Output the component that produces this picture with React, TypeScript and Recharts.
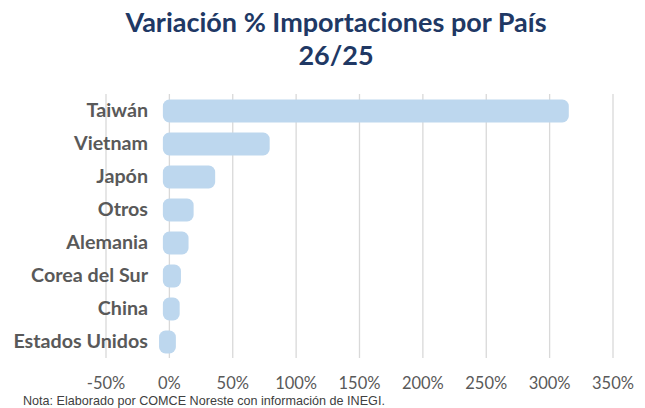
import { Bar, BarChart, CartesianGrid, XAxis, YAxis } from 'recharts';

const COUNTRIES = [
  'Taiwán',
  'Vietnam',
  'Japón',
  'Otros',
  'Alemania',
  'Corea del Sur',
  'China',
  'Estados Unidos',
];
const VARIATION = [310, 74, 31, 14, 10, 4, 3, -3];
const X_TICKS = [-50, 0, 50, 100, 150, 200, 250, 300, 350];

const data = COUNTRIES.map((name, i) => ({ name, value: VARIATION[i] }));

const LABEL_COLOR = '#595959';
const BAR_COLOR = '#BDD7EE';

function CountryTick({ y, payload }: any) {
  return (
    <text
      x={148}
      y={y}
      dy={6.5}
      textAnchor="end"
      fontFamily="Lato"
      fontWeight={700}
      fontSize={19.7}
      fill={LABEL_COLOR}
    >
      {payload.value}
    </text>
  );
}

function PercentTick({ x, payload }: any) {
  return (
    <text x={x} y={389} textAnchor="middle" fontFamily="Lato" fontSize={16.5} fill={LABEL_COLOR}>
      {`${payload.value}%`}
    </text>
  );
}

export default function App() {
  return (
    <div
      style={{
        position: 'absolute',
        left: 0,
        top: 0,
        width: 645,
        height: 408,
        background: '#fff',
      }}
    >
      <div
        style={{
          position: 'absolute',
          left: 0,
          top: 5,
          width: 672,
          textAlign: 'center',
          fontFamily: 'Lato',
          fontWeight: 700,
          fontSize: 27,
          lineHeight: '33px',
          color: '#203864',
        }}
      >
        Variación % Importaciones por País
        <br />
        26/25
      </div>
      <BarChart
        width={645}
        height={408}
        data={data}
        layout="vertical"
        margin={{ top: 94, right: 32, bottom: 20, left: 0 }}
      >
        <CartesianGrid horizontal={false} stroke="#D9D9D9" strokeWidth={1.3} />
        <XAxis
          type="number"
          domain={[-50, 350]}
          ticks={X_TICKS}
          axisLine={false}
          tickLine={false}
          height={30}
          tick={<PercentTick />}
          interval={0}
        />
        <YAxis
          type="category"
          dataKey="name"
          width={106}
          axisLine={false}
          tickLine={false}
          tick={<CountryTick />}
          interval={0}
        />
        <Bar
          dataKey="value"
          fill={BAR_COLOR}
          stroke={BAR_COLOR}
          strokeWidth={13}
          strokeLinejoin="round"
          barSize={10}
          isAnimationActive={false}
        />
      </BarChart>
      <div
        style={{
          position: 'absolute',
          left: 23,
          top: 394,
          fontFamily: 'Liberation Sans',
          fontSize: 12.6,
          color: '#404040',
          whiteSpace: 'nowrap',
        }}
      >
        Nota: Elaborado por COMCE Noreste con información de INEGI.
      </div>
    </div>
  );
}
